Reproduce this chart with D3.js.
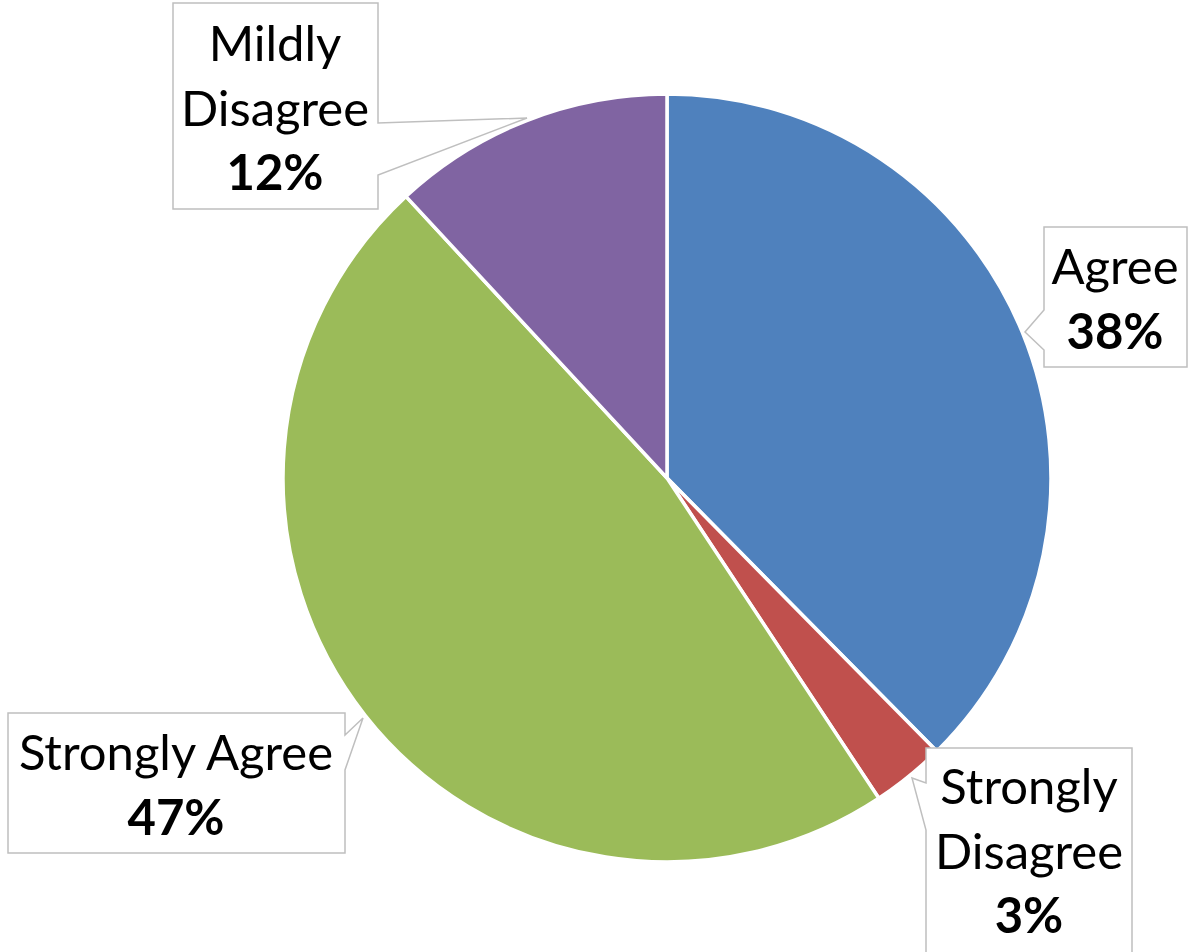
<!DOCTYPE html>
<html><head><meta charset="utf-8">
<script src="https://cdn.jsdelivr.net/npm/d3@7"></script>
<style>html,body{margin:0;padding:0;background:#fff;}svg{display:block;}</style>
</head><body>
<svg id="chart" width="1192" height="952"></svg>
<script>
// Data (clockwise from 12 o'clock)
const categories = ["Agree", "Strongly Disagree", "Strongly Agree", "Mildly Disagree"];
const values = [37.6, 3.1, 47.4, 11.9];
const colors = ["#4F81BD", "#C0504D", "#9BBB59", "#8064A2"];
const labelLines = [["Agree"], ["Strongly", "Disagree"], ["Strongly Agree"], ["Mildly", "Disagree"]];

// Layout of callout boxes (positions only)
const layout = [
  {x0:1044, y0:227, x1:1187, y1:367, side:"left",  p0:310, tip:[1025,332], p1:350, cx:1115, base:284},
  {x0:926,  y0:748, x1:1132, y1:962, side:"left",  p0:783, tip:[912,778],  p1:830, cx:1029, base:804},
  {x0:8,    y0:713, x1:345,  y1:853, side:"right", p0:735, tip:[363,718],  p1:770, cx:176,  base:770},
  {x0:173,  y0:3,   x1:378,  y1:209, side:"right", p0:123, tip:[527,118],  p1:175, cx:275,  base:61}
];
const lineH = 64.5;
const fontFamily = "Lato, 'Open Sans', sans-serif";
const fontSize = 49;

const svg = d3.select("#chart");
const cx = 667, cy = 478, r = 384;
const total = d3.sum(values);

const pie = d3.pie().sort(null).value(d => d.v);
const arc = d3.arc().innerRadius(0).outerRadius(r);
const data = categories.map((c, i) => ({c, v: values[i], i}));

const g = svg.append("g").attr("transform", `translate(${cx},${cy})`);
g.selectAll("path").data(pie(data)).join("path")
  .attr("d", arc)
  .attr("fill", d => colors[d.data.i])
  .attr("stroke", "#fff")
  .attr("stroke-width", 3.5)
  .attr("stroke-linejoin", "round");

// callouts
data.forEach((d, i) => {
  const L = layout[i];
  let path;
  if (L.side === "left") {
    path = `M${L.x0},${L.y0}H${L.x1}V${L.y1}H${L.x0}V${L.p1}L${L.tip[0]},${L.tip[1]}L${L.x0},${L.p0}Z`;
  } else {
    path = `M${L.x0},${L.y0}H${L.x1}V${L.p0}L${L.tip[0]},${L.tip[1]}L${L.x1},${L.p1}V${L.y1}H${L.x0}Z`;
  }
  svg.append("path").attr("d", path)
    .attr("fill", "#fff").attr("stroke", "#BFBFBF").attr("stroke-width", 1.5);
  const lines = labelLines[i];
  const t = svg.append("text").attr("text-anchor", "middle")
    .attr("font-family", fontFamily).attr("font-size", fontSize).attr("fill", "#000");
  lines.forEach((ln, k) => {
    t.append("tspan").attr("x", L.cx).attr("y", L.base + k * lineH).text(ln);
  });
  t.append("tspan").attr("x", L.cx).attr("y", L.base + lines.length * lineH)
    .attr("font-weight", "bold").text(Math.round(d.v / total * 100) + "%");
});
</script>
</body></html>
